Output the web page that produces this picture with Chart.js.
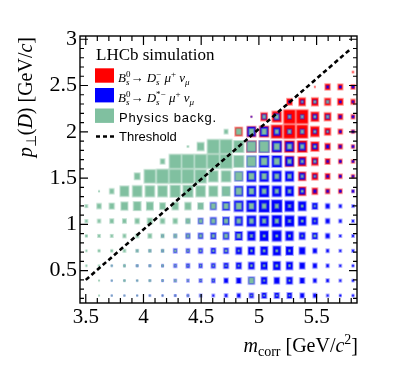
<!DOCTYPE html>
<html><head><meta charset="utf-8">
<script src="https://cdn.jsdelivr.net/npm/chart.js@4/dist/chart.umd.min.js"></script>
<style>html,body{margin:0;padding:0;background:#fff;}#wrap{width:399px;height:365px;}</style>
</head><body><div id="wrap"><canvas id="c" width="399" height="365"></canvas></div>
<script>
// bin centres (m_corr along x, p_perp(D) along y)
const mCorrBins = [3.505,3.615,3.725,3.835,3.945,4.055,4.165,4.275,4.385,4.495,4.605,4.715,4.825,4.935,5.045,5.155,5.265,5.375,5.485,5.595,5.705,5.815];
const pPerpBins = [0.231,0.392,0.553,0.714,0.875,1.036,1.197,1.358,1.519,1.680,1.841,2.002,2.163,2.324,2.485,2.646,2.807,2.968];
const binWidthX = 0.11, binWidthY = 0.1611;
const xTicks = [3.5,4,4.5,5,5.5];
const yTicks = [0.5,1,1.5,2,2.5,3];
const thresholdX = [3.5, 5.79];
const thresholdY = [0.40, 2.89];
const contentMax = 40;

// Bs -> Ds mu nu  (rows: first row = lowest p_perp bin)
const signalDs = [
 [0,0,0,0,0,0,0,0,0,0,0,0,0,0,0,0,0,0,0,0,0,0],
 [0,0,0,0,0,0,0,0,0,0,0,0,0,0,0,0,0,0,0,0,0,0],
 [0,0,0,0,0,0,0,0,0,0,0,0,0,0,0,0,0,0,0,0,0,0],
 [0,0,0,0,0,0,0,0,0,0,0,0,0,0,0,0,0,0,0,0,0,0],
 [0,0,0,0,0,0,0,0,0,0,0,0,0,0,0,0,0,0,0,0,0,0],
 [0,0,0,0,0,0,0,0,0,0,0,0,0,0,0,0,0,0,0,0,0,0],
 [0,0,0,0,0,0,0,0,0,0,0,0,0,0,0,0,0,0,0,0,0,0],
 [0,0,0,0,0,0,0,0,0,0,0,0,0,0,0,0,0,24,18,14,12,6],
 [0,0,0,0,0,0,0,0,0,0,0,0,0,0,0,0,0,24,20,16,12,10],
 [0,0,0,0,0,0,0,0,0,0,0,0,0,0,0,20,28,26,22,16,12,10],
 [0,0,0,0,0,0,0,0,0,0,0,0,0,31,30,30,32,32,26,18,14,10],
 [0,0,0,0,0,0,0,0,0,0,0,0,24,28,30,36,38,36,28,20,14,10],
 [0,0,0,0,0,0,0,0,0,0,0,0,0,3,22,30,38,38,26,22,16,12],
 [0,0,0,0,0,0,0,0,0,0,0,0,0,0,0,0,18,22,22,20,18,14],
 [0,0,0,0,0,0,0,0,0,0,0,0,0,0,0,0,0,0,3,17,16,13],
 [0,0,0,0,0,0,0,0,0,0,0,0,0,0,0,0,0,0,0,0,0,4],
 [0,0,0,0,0,0,0,0,0,0,0,0,0,0,0,0,0,0,0,0,0,0],
 [0,0,0,0,0,0,0,0,0,0,0,0,0,0,0,0,0,0,0,0,0,0]
];
// Bs -> Ds* mu nu
const signalDsStar = [
 [0,0,1,2,3,4,4,5,6,8,8,10,12,14,16,16,16,14,12,8,6,6],
 [0,0,2,3,3,4,5,8,8,10,12,14,16,20,20,18,20,16,12,10,8,6],
 [0,0,3,4,5,5,6,10,12,12,14,16,18,20,22,24,22,18,14,10,8,6],
 [0,0,0,0,4,5,6,12,12,14,16,16,20,22,24,26,24,20,14,10,8,8],
 [0,0,0,0,0,0,6,9,14,16,18,20,24,26,28,30,26,20,18,14,8,8],
 [0,0,0,0,0,0,0,0,10,16,20,22,26,30,30,32,30,26,20,14,10,8],
 [0,0,0,0,0,0,0,0,0,12,20,24,30,32,34,34,30,26,18,14,10,8],
 [0,0,0,0,0,0,0,0,0,0,14,20,28,30,32,30,28,18,10,8,6,8],
 [0,0,0,0,0,0,0,0,0,0,0,20,26,30,30,30,28,18,10,8,6,5],
 [0,0,0,0,0,0,0,0,0,0,0,0,24,30,32,32,26,18,12,8,6,5],
 [0,0,0,0,0,0,0,0,0,0,0,0,20,28,32,30,26,22,16,10,8,6],
 [0,0,0,0,0,0,0,0,0,0,0,0,0,26,26,22,14,14,12,8,6,6],
 [0,0,0,0,0,0,0,0,0,0,0,0,0,2,14,18,12,12,14,12,8,6],
 [0,0,0,0,0,0,0,0,0,0,0,0,0,0,0,0,6,10,10,8,6,5],
 [0,0,0,0,0,0,0,0,0,0,0,0,0,0,0,0,0,0,0,8,6,6],
 [0,0,0,0,0,0,0,0,0,0,0,0,0,0,0,0,0,0,0,0,0,0],
 [0,0,0,0,0,0,0,0,0,0,0,0,0,0,0,0,0,0,0,0,0,0],
 [0,0,0,0,0,0,0,0,0,0,0,0,0,0,0,0,0,0,0,0,0,0]
];
// Physics background
const physicsBkg = [
 [0,2,2,2,2,2,2,2,2,2,0,0,0,3,3,3,3,0,0,0,0,0],
 [0,3,3,5,4,5,4,5,3,3,3,0,0,16,4,0,4,0,0,0,0,0],
 [4,4,4,6,5,5,5,4,4,4,4,4,4,5,5,6,5,0,0,0,0,0],
 [4,6,6,8,8,8,8,6,5,5,5,6,4,5,6,6,5,0,0,0,0,0],
 [6,8,8,10,10,12,10,10,10,10,10,12,12,8,6,6,6,4,6,0,0,0],
 [8,10,12,12,14,16,14,14,14,12,14,14,14,14,12,12,8,6,4,0,0,0],
 [8,14,16,22,24,22,18,20,20,18,16,16,18,16,14,12,8,6,4,0,0,0],
 [0,3,14,28,30,30,30,32,32,30,28,26,20,16,14,12,10,6,0,0,0,0],
 [0,0,0,0,18,36,38,38,38,36,30,30,24,18,16,14,12,8,4,0,0,0],
 [0,0,0,0,0,0,14,38,38,38,38,38,32,28,20,18,12,8,6,0,0,0],
 [0,0,0,0,0,0,0,0,4,22,38,38,32,28,30,18,14,12,6,0,0,0],
 [0,0,0,0,0,0,0,0,0,0,0,12,18,16,16,12,10,10,6,4,0,0],
 [0,0,0,0,0,0,0,0,0,0,0,0,0,0,10,12,8,8,6,8,0,0],
 [0,0,0,0,0,0,0,0,0,0,0,0,0,0,0,0,0,4,6,8,0,0],
 [0,0,0,0,0,0,0,0,0,0,0,0,0,0,0,0,0,0,0,0,0,0],
 [0,0,0,0,0,0,0,0,0,0,0,0,0,0,0,0,0,0,0,0,0,0],
 [0,0,0,0,0,0,0,0,0,0,0,0,0,0,0,0,0,0,0,0,0,0],
 [0,0,0,0,0,0,0,0,0,0,0,0,0,0,0,0,0,0,0,0,0,0]
];

const RED='#ff0000', BLUE='#0000ff', GREEN='rgb(128,192,160)';
const REDE='rgba(255,0,0,0.45)', BLUEE='rgba(0,0,255,0.4)', GREENE='rgba(128,192,160,0.55)';

function cells(grid){
  const pts=[];
  grid.forEach((row,j)=>row.forEach((v,k)=>{ if(v>0) pts.push({x:mCorrBins[k], y:pPerpBins[j], v:v}); }));
  return pts;
}
function boxStyle(fill, edge){
  return function(c){
    const raw=c.raw; if(!raw||!c.chart.scales.x) return 'rect';
    const xs=c.chart.scales.x, ys=c.chart.scales.y;
    const cw=Math.abs(xs.getPixelForValue(xs.min+binWidthX)-xs.getPixelForValue(xs.min));
    const chh=Math.abs(ys.getPixelForValue(ys.min+binWidthY)-ys.getPixelForValue(ys.min));
    const f=raw.v/contentMax;
    const w=Math.max(1,cw*f), h=Math.max(1,chh*f);
    const cv=document.createElement('canvas');
    const W=Math.ceil(w)+3, H=Math.ceil(h)+3; cv.width=W; cv.height=H;
    const g=cv.getContext('2d');
    g.fillStyle=edge; g.fillRect((W-w)/2-0.5,(H-h)/2-0.5,w+1,h+1);
    g.fillStyle=fill;
    if(w>2.5&&h>2.5) g.fillRect((W-w)/2+0.5,(H-h)/2+0.5,w-1,h-1); else g.fillRect((W-w)/2,(H-h)/2,w,h);
    return cv;
  };
}

function drawRuns(ctx,x,y,runs,measureOnly){
  let cx=x, kept=0;
  for(const r of runs){
    ctx.font=r.f;
    const w=ctx.measureText(r.t).width;
    if(!measureOnly) ctx.fillText(r.t,cx,y+(r.dy||0));
    if(r.keep){ kept=w; }
    else { cx+=Math.max(w,kept); kept=0; }
  }
  return cx-x;
}
const SER='"Liberation Serif"', SANS='"Liberation Sans"';
function legRuns(star){
  return [
    {t:'B',f:`italic 13px ${SER}`},
    {t:'0',f:`9px ${SER}`,dy:-5,keep:true},
    {t:'s',f:`italic 9px ${SER}`,dy:3},
    {t:'\u2192',f:`13px ${SER}`},
    {t:' D',f:`italic 13px ${SER}`},
    {t:star?'*\u2212':'\u2212',f:`9px ${SER}`,dy:-5,keep:true},
    {t:'s',f:`italic 9px ${SER}`,dy:3},
    {t:' \u03bc',f:`italic 13px ${SER}`},
    {t:'+',f:`9px ${SER}`,dy:-5},
    {t:' \u03bd',f:`italic 13px ${SER}`},
    {t:'\u03bc',f:`italic 9px ${SER}`,dy:3}
  ];
}
const decor={
  id:'decor',
  afterDraw(chart){
    const {ctx,chartArea:a,scales:{x,y}}=chart;
    ctx.save();
    ctx.strokeStyle='#000'; ctx.lineWidth=1.4;
    ctx.strokeRect(a.left,a.top,a.right-a.left,a.bottom-a.top);
    ctx.lineWidth=1.2;
    ctx.beginPath();
    for(let i=Math.ceil(x.min*10);i<=Math.floor(x.max*10);i++){
      const v=i/10, px=x.getPixelForValue(v);
      const major=xTicks.some(t=>Math.abs(t-v)<1e-6);
      const L=major?9:5;
      ctx.moveTo(px,a.bottom); ctx.lineTo(px,a.bottom-L);
      ctx.moveTo(px,a.top); ctx.lineTo(px,a.top+L);
    }
    for(let i=Math.ceil(y.min*10);i<=Math.floor(y.max*10);i++){
      const v=i/10, py=y.getPixelForValue(v);
      const major=yTicks.some(t=>Math.abs(t-v)<1e-6);
      const L=major?8:4;
      ctx.moveTo(a.left,py); ctx.lineTo(a.left+L,py);
      ctx.moveTo(a.right,py); ctx.lineTo(a.right-L,py);
    }
    ctx.stroke();
    // legend
    ctx.fillStyle='#000'; ctx.textBaseline='alphabetic'; ctx.textAlign='left';
    ctx.font=`17px ${SER}`; ctx.fillText('LHCb simulation',96,59.5);
    ctx.fillStyle=RED; ctx.fillRect(95,68.3,19,14.4);
    ctx.fillStyle=BLUE; ctx.fillRect(95,88,19,14.4);
    ctx.fillStyle=GREEN; ctx.fillRect(95,108.5,19,14.4);
    ctx.fillStyle='#000';
    drawRuns(ctx,118,81.5,legRuns(false));
    drawRuns(ctx,118,101.5,legRuns(true));
    ctx.font=`13px ${SANS}`;
    ctx.letterSpacing='0.8px';
    ctx.fillText('Physics backg.',119,121.5);
    ctx.letterSpacing='0px';
    ctx.fillText('Threshold',119,140.5);
    ctx.setLineDash([4,3]); ctx.lineWidth=2.5;
    ctx.beginPath(); ctx.moveTo(96,136.5); ctx.lineTo(115,136.5); ctx.stroke();
    ctx.setLineDash([]);
    // x title
    const xr=[
      {t:'m',f:`italic 20px ${SER}`},
      {t:'corr',f:`14px ${SER}`,dy:4},
      {t:' [GeV/',f:`20px ${SER}`},
      {t:'c',f:`italic 20px ${SER}`},
      {t:'2',f:`14px ${SER}`,dy:-8},
      {t:']',f:`20px ${SER}`}
    ];
    const xw=drawRuns(ctx,0,0,xr,true);
    drawRuns(ctx,358-xw,351.5,xr);
    // y title
    const yr=[
      {t:'p',f:`italic 20px ${SER}`},
      {t:'\u22a5',f:`14px ${SER}`,dy:4},
      {t:'(',f:`20px ${SER}`},
      {t:'D',f:`italic 20px ${SER}`},
      {t:') [GeV/',f:`20px ${SER}`},
      {t:'c',f:`italic 20px ${SER}`},
      {t:']',f:`20px ${SER}`}
    ];
    const yw=drawRuns(ctx,0,0,yr,true);
    ctx.translate(32,37+yw); ctx.rotate(-Math.PI/2);
    drawRuns(ctx,0,0,yr);
    ctx.restore();
  }
};

const tickFont={family:SER,size:21};
new Chart(document.getElementById('c'),{
  type:'scatter',
  data:{datasets:[
    {label:'Threshold',data:thresholdX.map((v,i)=>({x:v,y:thresholdY[i]})),showLine:true,borderColor:'#000',borderWidth:2.6,borderDash:[4.5,3],pointRadius:0,order:0},
    {label:'Physics backg.',data:cells(physicsBkg),pointStyle:boxStyle(GREEN,GREENE),pointRadius:4,borderWidth:0,order:1},
    {label:'Bs->Ds*munu',data:cells(signalDsStar),pointStyle:boxStyle(BLUE,BLUEE),pointRadius:4,borderWidth:0,order:2},
    {label:'Bs->Dsmunu',data:cells(signalDs),pointStyle:boxStyle(RED,REDE),pointRadius:4,borderWidth:0,order:3}
  ]},
  options:{
    responsive:false,animation:false,events:[],
    layout:{padding:{left:0,right:42,top:36,bottom:0}},
    plugins:{legend:{display:false},tooltip:{enabled:false}},
    scales:{
      x:{type:'linear',min:3.45,max:5.85,
        afterBuildTicks:s=>{s.ticks=xTicks.map(v=>({value:v}));},
        afterFit:s=>{s.height=62;},
        grid:{display:false,drawTicks:false},border:{display:false},
        ticks:{font:tickFont,color:'#000',padding:2,maxRotation:0,autoSkip:false,callback:v=>String(v)}},
      y:{type:'linear',min:0.15,max:3.035,
        afterBuildTicks:s=>{s.ticks=yTicks.map(v=>({value:v}));},
        afterFit:s=>{s.width=80;},
        grid:{display:false,drawTicks:false},border:{display:false},
        ticks:{font:{family:SER,size:22},color:'#000',padding:3,autoSkip:false,callback:v=>String(v)}}
    }
  },
  plugins:[decor]
});
</script></body></html>
